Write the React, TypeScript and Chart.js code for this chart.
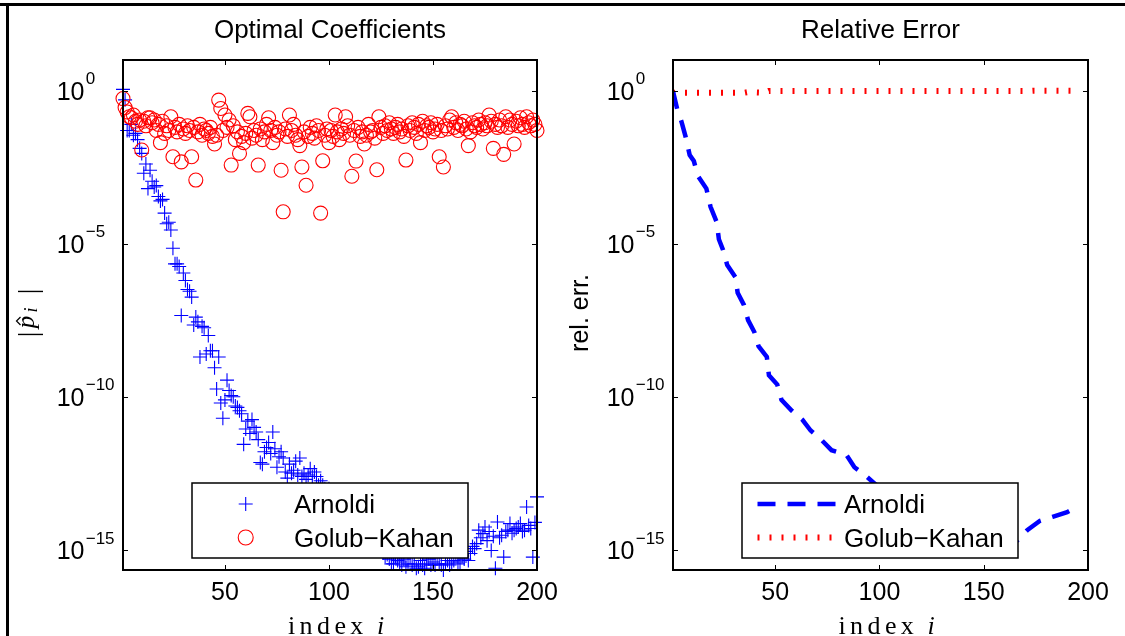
import React, { useEffect, useRef } from 'react';
import { Chart, registerables } from 'chart.js';

Chart.register(...registerables);

const SANS = "'Liberation Sans', Arial, Helvetica, sans-serif";
const SERIF = "'Liberation Serif', 'Times New Roman', serif";
const BLUE = 'rgb(0,0,255)';
const RED = 'rgb(255,0,0)';

// ---------- data ----------
const INDEX = Array.from({ length: 200 }, (_, k) => k + 1);

const ARNOLDI_COEF = [
  1.1, 0.5, 5e-2, 5e-2, 7.9e-2, 3.5e-2, 4e-2, 2.5e-2, 1.3e-2, 8.9e-3,
  2e-3, 4e-3, 6.3e-4, 2.5e-3, 1.1e-3, 7.1e-4, 7.9e-4, 3.5e-4, 2.5e-4, 2.8e-4,
  1e-4, 4.5e-5, 5e-5, 2.8e-5, 7.1e-6, 2.2e-6, 2.2e-6, 1.8e-6, 4.5e-8, 1.1e-6,
  6.3e-7, 3.2e-7, 2.8e-7, 1.8e-7, 2.2e-8, 4e-8, 2.8e-8, 2e-9, 2e-8, 1.8e-8,
  2.5e-9, 1e-8, 3.2e-9, 3.2e-9, 8.9e-10, 1.8e-10, 2e-9, 6.3e-11, 2e-11, 7.9e-11,
  3.5e-10, 1.6e-10, 1.1e-10, 1e-10, 5e-11, 4.5e-11, 3.5e-11, 2.8e-11, 2.8e-12, 8.9e-12,
  1.6e-11, 6.3e-12, 1.8e-11, 1e-11, 7.1e-12, 4e-12, 7.1e-13, 6.3e-13, 1.6e-12, 2.2e-12,
  3.2e-12, 1.4e-12, 7.1e-12, 2e-12, 5e-13, 1.1e-12, 1.6e-12, 1e-12, 3.5e-13, 2.2e-13,
  6.3e-13, 3.2e-13, 4e-13, 7.9e-13, 2.8e-13, 1e-12, 2.5e-13, 3.2e-13, 2e-13, 2.8e-13,
  4.5e-13, 2.5e-13, 3.5e-13, 2.5e-13, 1.3e-13, 1.8e-13, 1.3e-13, 1e-13, 7.9e-14, 1e-13,
  6.3e-14, 8.9e-14, 4e-14, 5e-14, 3.2e-14, 3.5e-14, 2.5e-14, 1.6e-14, 2e-14, 1.3e-14,
  1.4e-14, 7.9e-15, 1e-14, 6.3e-15, 5e-15, 7.1e-15, 4e-15, 3.2e-15, 3.5e-15, 2.5e-15,
  1.6e-15, 2e-15, 1.3e-15, 1e-15, 1.1e-15, 7.9e-16, 6.3e-16, 7.1e-16, 5e-16, 3.5e-16,
  3.5e-16, 6.3e-16, 4.5e-16, 4e-16, 3.2e-16, 5e-16, 2.8e-16, 3.5e-16, 6.3e-16, 3.2e-16,
  3.5e-16, 2.5e-16, 2.8e-16, 4.5e-16, 3.2e-16, 2.5e-16, 3.5e-16, 5e-16, 3.2e-16, 4e-16,
  3.2e-16, 5.6e-16, 3.5e-16, 3.2e-16, 2.2e-16, 3.5e-16, 4.5e-16, 3.2e-16, 4e-16, 4.5e-16,
  7.9e-16, 3.5e-16, 4e-16, 6.3e-16, 5e-16, 8.9e-16, 4.5e-16, 7.6e-16, 1.3e-15, 1.1e-15,
  1.6e-15, 4.4e-15, 2.5e-15, 3.4e-15, 5.6e-15, 2e-15, 4e-15, 9.5e-16, 2.8e-15, 2.5e-16,
  8.1e-15, 2.5e-15, 3e-15, 5.8e-16, 4e-15, 4.4e-15, 7.2e-15, 3.5e-15, 4.4e-15, 5e-15,
  5.6e-15, 7.2e-15, 4e-15, 4.4e-15, 2.5e-14, 6.3e-15, 5e-15, 5.8e-16, 7.9e-15, 5.4e-14,
];

const GOLUB_KAHAN_COEF = [
  0.55, 0.28, 0.2, 0.14, 0.13, 0.16, 0.1, 0.079, 0.11, 0.0115,
  0.1, 0.071, 0.13, 0.13, 0.089, 0.11, 0.05, 0.079, 0.02, 0.1,
  0.04, 0.071, 0.05, 0.14, 0.0069, 0.063, 0.045, 0.079, 0.0047, 0.056,
  0.04, 0.071, 0.05, 0.0069, 0.063, 0.0012, 0.045, 0.079, 0.035, 0.056,
  0.05, 0.04, 0.063, 0.032, 0.018, 0.035, 0.49, 0.26, 0.05, 0.16,
  0.063, 0.11, 0.0037, 0.071, 0.025, 0.045, 0.0089, 0.032, 0.02, 0.04,
  0.18, 0.14, 0.028, 0.05, 0.035, 0.0037, 0.056, 0.025, 0.045, 0.079,
  0.13, 0.05, 0.02, 0.063, 0.035, 0.045, 0.0025, 0.00011, 0.056, 0.032,
  0.16, 0.05, 0.079, 0.035, 0.025, 0.016, 0.0032, 0.045, 0.00081, 0.032,
  0.063, 0.04, 0.028, 0.071, 0.05, 0.0001, 0.0051, 0.035, 0.056, 0.02,
  0.05, 0.032, 0.16, 0.045, 0.025, 0.056, 0.04, 0.14, 0.071, 0.035,
  0.0016, 0.05, 0.005, 0.063, 0.032, 0.045, 0.018, 0.035, 0.079, 0.045,
  0.05, 0.028, 0.0026, 0.14, 0.063, 0.04, 0.071, 0.05, 0.089, 0.056,
  0.04, 0.063, 0.079, 0.045, 0.056, 0.032, 0.0054, 0.071, 0.05, 0.089,
  0.063, 0.04, 0.079, 0.02, 0.1, 0.05, 0.071, 0.063, 0.089, 0.045,
  0.056, 0.079, 0.0069, 0.05, 0.0032, 0.071, 0.056, 0.11, 0.14, 0.063,
  0.089, 0.05, 0.079, 0.071, 0.1, 0.056, 0.016, 0.045, 0.089, 0.071,
  0.063, 0.11, 0.079, 0.056, 0.089, 0.071, 0.16, 0.1, 0.013, 0.079,
  0.063, 0.11, 0.071, 0.0083, 0.14, 0.063, 0.11, 0.079, 0.018, 0.1,
  0.071, 0.13, 0.079, 0.063, 0.14, 0.089, 0.071, 0.11, 0.079, 0.05,
];

const REL_ERR_ARNOLDI_I = [
  1, 3, 5, 7, 9, 11, 13, 17, 19, 22,
  23, 25, 27, 31, 32, 35, 37, 40, 42, 46,
  47, 51, 53, 58, 63, 67, 72, 77, 84, 88,
  93, 98, 105, 115, 125, 135, 145, 155, 163, 166,
  171, 177, 183, 190, 196,
];
const REL_ERR_ARNOLDI = [
  0.95, 0.25, 0.1, 0.032, 7.9e-3, 5e-3, 1.6e-3, 6.3e-4, 1.6e-4, 5e-5,
  1.4e-5, 6.3e-6, 2e-6, 7.9e-7, 2.5e-7, 1e-7, 3.2e-8, 1.3e-8, 4.5e-9, 2e-9,
  5e-10, 2.5e-10, 7.9e-11, 3.5e-11, 1.8e-11, 7.9e-12, 4e-12, 1.8e-12, 1.3e-12, 5e-13,
  2.8e-13, 1.4e-13, 6.3e-14, 2.5e-14, 1.1e-14, 5.6e-15, 3.2e-15, 2e-15, 1.6e-15, 2e-15,
  4.5e-15, 8.9e-15, 1.2e-14, 1.7e-14, 2.8e-14,
];
const REL_ERR_GK_I = [1, 35, 37, 45, 47, 100, 172, 174, 196];
const REL_ERR_GK = [0.85, 0.85, 0.9, 0.85, 0.98, 0.98, 0.97, 0.99, 0.98];

const SERIES_NAMES = ['Arnoldi', 'Golub\u2212Kahan'];
const TITLES = ['Optimal Coefficients', 'Relative Error'];
const X_TICKS = [50, 100, 150, 200];
const Y_TICKS = [1, 1e-5, 1e-10, 1e-15];
const X_MIN = 1;
const X_MAX = 200;
const Y_MIN = 2.2e-16;
const Y_MAX = 10;

// ---------- drawing helpers ----------
const W = 575;
const H = 636;
const AXIS_W = 123;
const AXIS_H = 66;
const TOP = 60;

function expLabel(v: number) {
  const e = Math.round(Math.log10(v));
  return e < 0 ? '\u2212' + String(-e) : String(e);
}

function decorPlugin(title: string, kind: 'coef' | 'err') {
  return {
    id: 'decor',
    afterDraw(chart: any) {
      const ctx = chart.ctx as CanvasRenderingContext2D;
      const { left, right, top, bottom } = chart.chartArea;
      const xs = chart.scales.x;
      const ys = chart.scales.y;
      const cx = (left + right) / 2;
      ctx.save();
      ctx.fillStyle = '#000';
      ctx.strokeStyle = '#000';
      ctx.setLineDash([]);

      // inward tick marks
      ctx.lineWidth = 1;
      ctx.beginPath();
      for (const v of X_TICKS) {
        const px = Math.round(xs.getPixelForValue(v)) + 0.5;
        ctx.moveTo(px, top); ctx.lineTo(px, top + 5);
        ctx.moveTo(px, bottom); ctx.lineTo(px, bottom - 5);
      }
      for (const v of Y_TICKS) {
        const py = Math.round(ys.getPixelForValue(v)) + 0.5;
        ctx.moveTo(left, py); ctx.lineTo(left + 5, py);
        ctx.moveTo(right, py); ctx.lineTo(right - 5, py);
      }
      ctx.stroke();

      // legend box (covers data)
      const lx0 = left + 69, lx1 = left + 345, ly0 = 483, ly1 = 558;
      ctx.fillStyle = '#fff';
      ctx.fillRect(lx0, ly0, lx1 - lx0, ly1 - ly0);
      ctx.lineWidth = 1.5;
      ctx.strokeStyle = '#000';
      ctx.strokeRect(lx0, ly0, lx1 - lx0, ly1 - ly0);
      const rows = [504, 537.5];
      const ds = chart.data.datasets;
      ds.forEach((d: any, k: number) => {
        const ry = rows[k];
        const sx = left + 122.7;
        ctx.save();
        ctx.strokeStyle = d.borderColor;
        if (kind === 'coef') {
          ctx.lineWidth = 1.1;
          ctx.beginPath();
          if (d.pointStyle === 'cross') {
            ctx.moveTo(sx - 7, ry); ctx.lineTo(sx + 7, ry);
            ctx.moveTo(sx, ry - 7); ctx.lineTo(sx, ry + 7);
          } else {
            ctx.arc(sx, ry, 7.5, 0, Math.PI * 2);
          }
          ctx.stroke();
        } else {
          ctx.lineWidth = d.borderWidth;
          ctx.setLineDash(d.borderDash);
          ctx.beginPath();
          ctx.moveTo(left + 84.5, ry);
          ctx.lineTo(left + 162.7, ry);
          ctx.stroke();
        }
        ctx.restore();
        ctx.fillStyle = '#000';
        ctx.font = `26px ${SANS}`;
        ctx.textAlign = 'left';
        ctx.textBaseline = 'alphabetic';
        ctx.fillText(d.label, left + 171, ry + 9.3);
      });

      // frame
      ctx.lineWidth = 2;
      ctx.strokeStyle = '#000';
      ctx.strokeRect(left, top, right - left, bottom - top);

      // y tick labels 10^e
      ctx.fillStyle = '#000';
      ctx.textBaseline = 'alphabetic';
      for (const v of Y_TICKS) {
        const py = ys.getPixelForValue(v);
        ctx.font = `25px ${SANS}`;
        ctx.textAlign = 'right';
        ctx.fillText('10', left - 38.5, py + 9.2);
        ctx.font = `17px ${SANS}`;
        ctx.textAlign = 'left';
        ctx.fillText(expLabel(v), left - 37.3, py - 6.3);
      }

      // title
      ctx.font = `26px ${SANS}`;
      ctx.textAlign = 'center';
      ctx.fillText(title, cx, 38);

      // x label "index i"
      ctx.textAlign = 'left';
      ctx.font = `26px ${SERIF}`;
      (ctx as any).letterSpacing = '4.4px';
      ctx.fillText('index', cx - 42, 634);
      (ctx as any).letterSpacing = '0px';
      ctx.font = `italic 26px ${SERIF}`;
      ctx.fillText('i', cx + 47, 634);

      // y label
      ctx.save();
      if (kind === 'coef') {
        ctx.translate(left - 93, 313);
        ctx.rotate(-Math.PI / 2);
        ctx.textAlign = 'center';
        ctx.font = `28px ${SERIF}`;
        ctx.fillText('|', -21.5, 7);
        ctx.fillText('|', 21.5, 7);
        ctx.font = `italic 25px ${SERIF}`;
        ctx.fillText('p', -9, 4);
        // hat accent over p
        ctx.lineWidth = 1.2;
        ctx.strokeStyle = '#000';
        ctx.beginPath();
        ctx.moveTo(-12, -9.5);
        ctx.lineTo(-8, -13.5);
        ctx.lineTo(-4, -9.5);
        ctx.stroke();
        ctx.font = `italic 18px ${SERIF}`;
        ctx.fillText('i', 3, 7);
      } else {
        ctx.translate(left - 85.5, 313);
        ctx.rotate(-Math.PI / 2);
        ctx.textAlign = 'center';
        ctx.font = `25px ${SANS}`;
        ctx.fillText('rel. err.', 0, 0);
      }
      ctx.restore();
      ctx.restore();
    },
  };
}

function scales() {
  return {
    x: {
      type: 'linear',
      position: 'bottom',
      min: X_MIN,
      max: X_MAX,
      grid: { display: false, drawTicks: false },
      border: { display: false },
      ticks: {
        padding: 8,
        color: '#000',
        font: { family: SANS, size: 25 },
        maxRotation: 0,
        autoSkip: false,
        callback: (v: any) => String(v),
      },
      afterBuildTicks: (s: any) => { s.ticks = X_TICKS.map((v) => ({ value: v })); },
      afterFit: (s: any) => { s.height = AXIS_H; },
    },
    y: {
      type: 'logarithmic',
      min: Y_MIN,
      max: Y_MAX,
      grid: { display: false, drawTicks: false },
      border: { display: false },
      ticks: { display: false },
      afterBuildTicks: (s: any) => { s.ticks = Y_TICKS.map((v) => ({ value: v, major: true })); },
      afterFit: (s: any) => { s.width = AXIS_W; },
    },
  };
}

function baseOptions(rightPad: number) {
  return {
    responsive: false,
    maintainAspectRatio: false,
    animation: false,
    events: [],
    layout: { padding: { left: 0, right: rightPad, top: TOP, bottom: 0 } },
    plugins: { legend: { display: false }, tooltip: { enabled: false }, title: { display: false } },
    scales: scales(),
  };
}

export default function App() {
  const leftRef = useRef<HTMLCanvasElement>(null);
  const rightRef = useRef<HTMLCanvasElement>(null);

  useEffect(() => {
    const left = new Chart(leftRef.current as HTMLCanvasElement, {
      type: 'scatter',
      data: {
        datasets: [
          {
            label: SERIES_NAMES[0],
            data: INDEX.map((x, k) => ({ x, y: ARNOLDI_COEF[k] })),
            pointStyle: 'cross',
            pointRadius: 7,
            pointHoverRadius: 7,
            pointBorderWidth: 1.1,
            borderColor: BLUE,
            pointBorderColor: BLUE,
            backgroundColor: BLUE,
            clip: false,
            order: 1,
          },
          {
            label: SERIES_NAMES[1],
            data: INDEX.map((x, k) => ({ x, y: GOLUB_KAHAN_COEF[k] })),
            pointStyle: 'circle',
            pointRadius: 7,
            pointHoverRadius: 7,
            pointBorderWidth: 1.1,
            borderColor: RED,
            pointBorderColor: RED,
            backgroundColor: 'rgba(0,0,0,0)',
            pointBackgroundColor: 'rgba(0,0,0,0)',
            clip: false,
            order: 0,
          },
        ],
      },
      options: baseOptions(W - 537) as any,
      plugins: [decorPlugin(TITLES[0], 'coef')],
    } as any);

    const right = new Chart(rightRef.current as HTMLCanvasElement, {
      type: 'line',
      data: {
        datasets: [
          {
            label: SERIES_NAMES[0],
            data: REL_ERR_ARNOLDI_I.map((x, k) => ({ x, y: REL_ERR_ARNOLDI[k] })),
            borderColor: BLUE,
            backgroundColor: BLUE,
            borderWidth: 4.5,
            borderDash: [18, 12],
            pointRadius: 0,
            tension: 0,
            fill: false,
          },
          {
            label: SERIES_NAMES[1],
            data: REL_ERR_GK_I.map((x, k) => ({ x, y: REL_ERR_GK[k] })),
            borderColor: RED,
            backgroundColor: RED,
            borderWidth: 6,
            borderDash: [2, 10],
            pointRadius: 0,
            tension: 0,
            fill: false,
          },
        ],
      },
      options: baseOptions(W - 538) as any,
      plugins: [decorPlugin(TITLES[1], 'err')],
    } as any);

    return () => {
      left.destroy();
      right.destroy();
    };
  }, []);

  return (
    <div style={{ position: 'fixed', left: 0, top: 0, width: 1125, height: 636, background: '#fff', overflow: 'hidden' }}>
      <div style={{ position: 'absolute', left: 0, top: 3, width: 1125, height: 3, background: '#000' }} />
      <div style={{ position: 'absolute', left: 6, top: 3, width: 3, height: 633, background: '#000' }} />
      <canvas ref={leftRef} width={W} height={H} style={{ position: 'absolute', left: 0, top: 0 }} />
      <canvas ref={rightRef} width={W} height={H} style={{ position: 'absolute', left: 550, top: 0 }} />
    </div>
  );
}
